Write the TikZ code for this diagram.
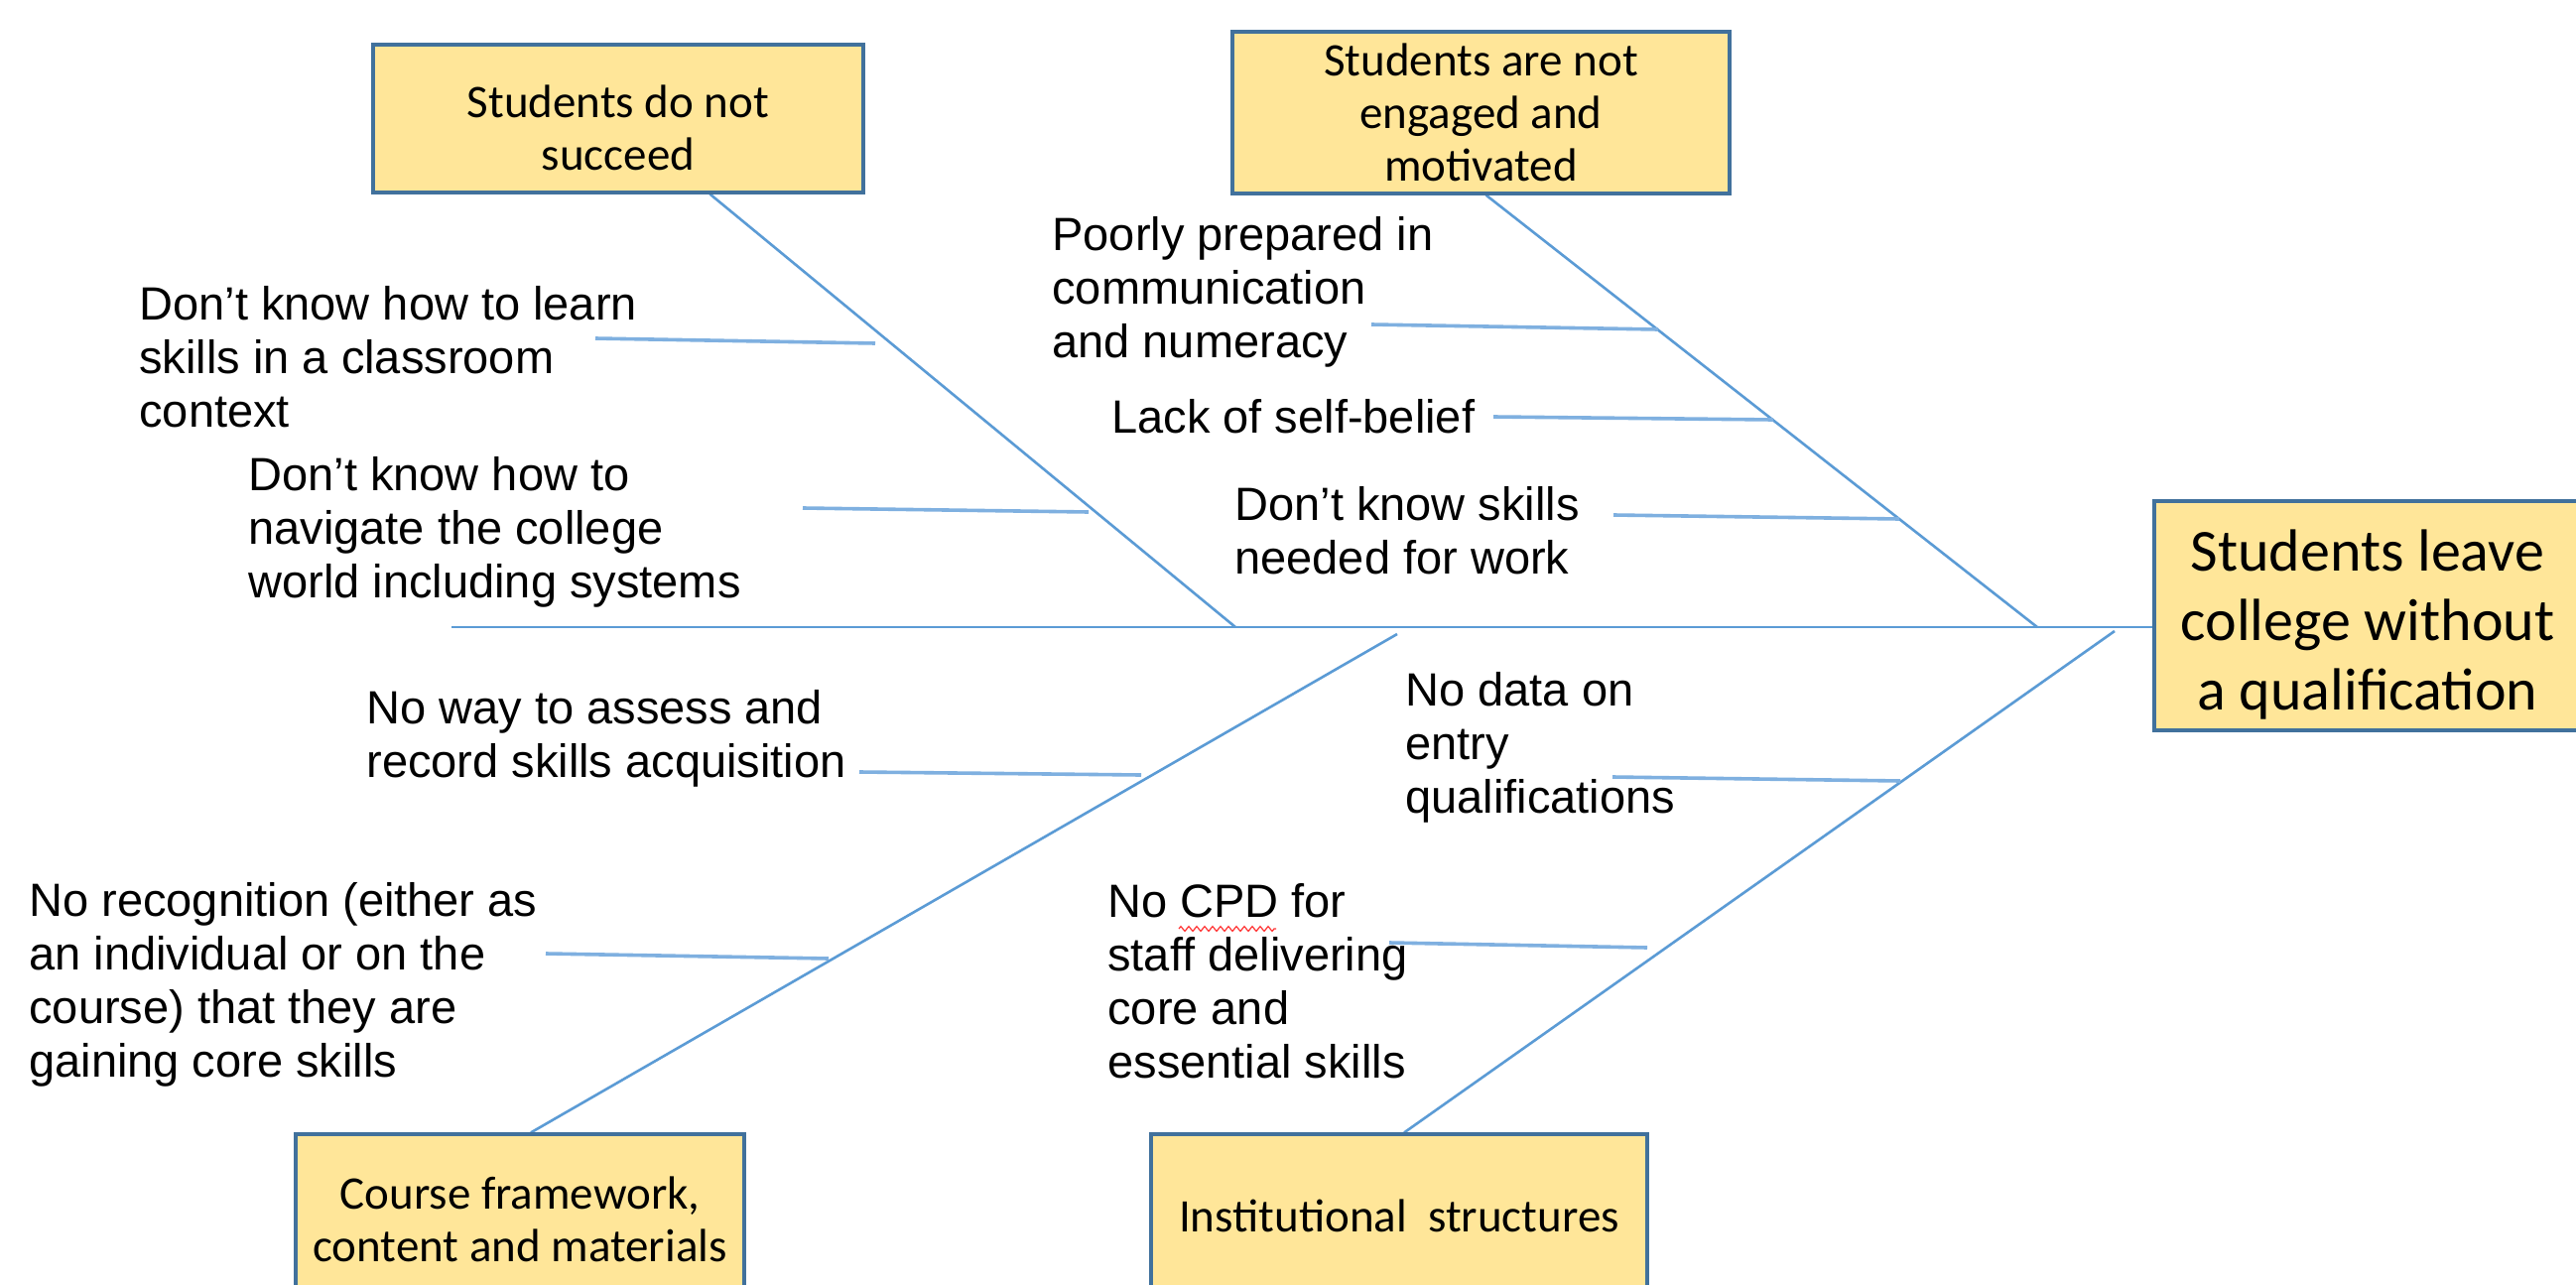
\documentclass[tikz,border=0pt]{standalone}
\usepackage{fontspec}
\setmainfont{Liberation Sans}
\newfontfamily\calfont{Carlito}
\usetikzlibrary{calc,decorations.pathmorphing}
\definecolor{boxfill}{HTML}{FFE699}
\definecolor{boxline}{HTML}{41719C}
\definecolor{bonecol}{HTML}{5B9BD5}
\definecolor{subcol}{HTML}{7FB0E0}
\pgfdeclarelayer{background}
\pgfsetlayers{background,main}
\tikzset{
  catbox/.style={draw=boxline, fill=boxfill, line width=1.6pt, inner sep=0pt, align=center,
    font=\calfont\fontsize{23.5}{26.5}\selectfont},
  bigbox/.style={catbox, font=\calfont\fontsize{30}{35}\selectfont},
  boneline/.style={draw=bonecol, line width=1.3pt},
  subline/.style={draw=subcol, line width=1.8pt},
  lab/.style={anchor=north west, inner sep=0pt, align=left, font=\fontsize{23.5}{27}\selectfont},
}
\begin{document}
\begin{tikzpicture}[x=0.5pt,y=-0.5pt]
\useasboundingbox (0,0) rectangle (2596,1295);
\clip (0,0) rectangle (2596,1295);

% category boxes and effect
\node[catbox, minimum width=247pt, minimum height=74.5pt] (box1) at (623,119.5) {\rule{0pt}{26pt}Students do not\\succeed};
\node[catbox, minimum width=250.5pt, minimum height=81.5pt] (box2) at (1492.5,113.5) {Students are not\\engaged and\\motivated};
\node[bigbox, minimum width=215pt, minimum height=115.5pt] (effect) at (2386,620.5) {\rule{0pt}{30pt}Students leave\\college without\\a qualification};
\node[catbox, minimum width=226pt, minimum height=86pt] (box3) at (524,1229) {Course framework,\\content and materials};
\node[catbox, minimum width=250pt, minimum height=82pt] (box4) at (1410,1225) {Institutional\ \ structures};

% labels
\node[lab] (l1) at (140,288) {Don’t know how to learn\\skills in a classroom\\context};
\node[lab] (l2) at (250,460) {Don’t know how to\\navigate the college\\world including systems};
\node[lab] (l3) at (1060,218) {Poorly prepared in\\communication\\and numeracy};
\node[lab] (l4) at (1120,402) {Lack of self-belief};
\node[lab] (l5) at (1244,490) {Don’t know skills\\needed for work};
\node[lab] (l6) at (369,695) {No way to assess and\\record skills acquisition};
\node[lab] (l7) at (29,889) {No recognition (either as\\an individual or on the\\course) that they are\\gaining core skills};
\node[lab] (l8) at (1416,677) {No data on\\entry\\qualifications};
\node[lab] (l9) at (1116,890) {No CPD for\\staff delivering\\core and\\essential skills};

% spell-check squiggle under CPD
\coordinate (sqa) at (1188,936);
\coordinate (sqb) at (1286,936);
\draw[red!80, line width=0.6pt, decorate, decoration={zigzag, segment length=4pt, amplitude=1.2pt}] (sqa) -- (sqb);

% coordinates
\coordinate (spL) at (455,632);
\coordinate (b1t) at ($(box1.south west)!0.686!(box1.south east)$);
\coordinate (b1e) at (1245,632);
\coordinate (b2t) at ($(box2.south west)!0.51!(box2.south east)$);
\coordinate (b2e) at (2053,632);
\coordinate (b3s) at (1408,639);
\coordinate (b3e) at ($(box3.north west)!0.524!(box3.north east)$);
\coordinate (b4s) at (2131,636);
\coordinate (b4e) at ($(box4.north west)!0.51!(box4.north east)$);

\coordinate (s1a) at (600,341);  \coordinate (s1b) at (882,346);
\coordinate (s2a) at (809,512);  \coordinate (s2b) at (1097,516);
\coordinate (s3a) at (1382,327); \coordinate (s3b) at (1671,332);
\coordinate (s4a) at (1505,420); \coordinate (s4b) at (1787,423);
\coordinate (s5a) at (1626,519); \coordinate (s5b) at (1914,523);
\coordinate (s6a) at (866,778);  \coordinate (s6b) at (1150,781);
\coordinate (s7a) at (550,961);  \coordinate (s7b) at (835,966);
\coordinate (s8a) at (1625,783); \coordinate (s8b) at (1915,787);
\coordinate (s9a) at (1400,950); \coordinate (s9b) at (1660,955);

\begin{pgfonlayer}{background}
\fill[white] (0,0) rectangle (2596,1295);
\draw[boneline] (spL) -- (spL -| effect.west);
\draw[boneline] (b1t) -- (b1e);
\draw[boneline] (b2t) -- (b2e);
\draw[boneline] (b3s) -- (b3e);
\draw[boneline] (b4s) -- (b4e);
\draw[subline] (s1a) -- (s1b);
\draw[subline] (s2a) -- (s2b);
\draw[subline] (s3a) -- (s3b);
\draw[subline] (s4a) -- (s4b);
\draw[subline] (s5a) -- (s5b);
\draw[subline] (s6a) -- (s6b);
\draw[subline] (s7a) -- (s7b);
\draw[subline] (s8a) -- (s8b);
\draw[subline] (s9a) -- (s9b);
\end{pgfonlayer}
\end{tikzpicture}
\end{document}
